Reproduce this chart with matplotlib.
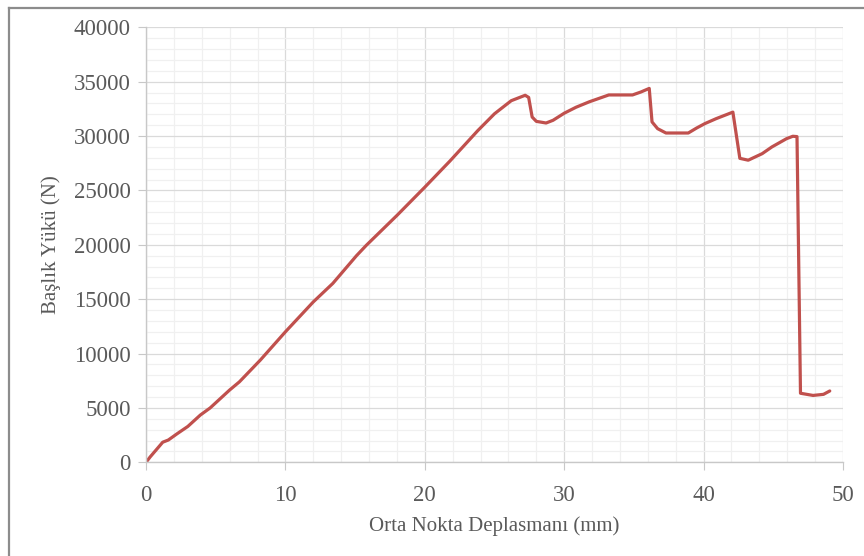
import matplotlib
matplotlib.use("Agg")
import matplotlib.pyplot as plt
from matplotlib.lines import Line2D
from matplotlib.ticker import MultipleLocator

# deplasman (mm) ve yuk (N) okumalari
deplasman = [0, 0.3, 0.7, 1.2, 1.6, 2.2, 3.0, 3.9, 4.6, 6.0, 6.7, 8.2, 10.0,
             12.0, 13.4, 15.1, 15.8, 18.0, 20.0, 21.8, 23.8, 25.0, 26.2, 27.2,
             27.45, 27.7, 28.0, 28.7, 29.2, 30.0, 30.85, 31.8, 33.2, 34.9,
             35.5, 36.1, 36.3, 36.7, 37.3, 38.9, 39.5, 40.1, 40.9, 42.1, 42.6,
             43.2, 44.2, 44.9, 45.95, 46.4, 46.7, 46.95, 47.85, 48.6, 49.05]
yuk = [0, 500, 1100, 1850, 2050, 2600, 3300, 4350, 5000, 6650, 7400, 9400,
       12000, 14750, 16450, 19000, 19950, 22700, 25300, 27700, 30500, 32050,
       33250, 33750, 33550, 31750, 31350, 31200, 31450, 32100, 32650, 33150,
       33780, 33780, 34050, 34380, 31300, 30680, 30280, 30280, 30740, 31150,
       31600, 32200, 27950, 27780, 28380, 29000, 29760, 29980, 29950, 6350,
       6150, 6250, 6560]

x_ticks = [0, 10, 20, 30, 40, 50]
y_ticks = [0, 5000, 10000, 15000, 20000, 25000, 30000, 35000, 40000]

plt.rcParams['font.family'] = ['Liberation Serif', 'DejaVu Serif']

fig = plt.figure(figsize=(8.64, 5.56), dpi=100)
ax = fig.add_axes([0.169, 0.1685, 0.8067, 0.7824])

ax.plot(deplasman, yuk, color='#c0504d', lw=2.3, solid_joinstyle='round',
        solid_capstyle='round')

ax.set_xlim(0, 50)
ax.set_ylim(0, 40000)
ax.set_xticks(x_ticks)
ax.set_yticks(y_ticks)
ax.xaxis.set_minor_locator(MultipleLocator(2))
ax.yaxis.set_minor_locator(MultipleLocator(1000))

ax.grid(which='major', color='#dadada', lw=0.9)
ax.grid(which='minor', color='#f0f0f0', lw=0.9)
ax.set_axisbelow(True)

for s in ['top', 'right']:
    ax.spines[s].set_visible(False)
for s in ['left', 'bottom']:
    ax.spines[s].set_color('#c8c8c8')
    ax.spines[s].set_linewidth(1.0)

ax.tick_params(which='major', length=6, color='#c8c8c8', labelsize=16.5,
               labelcolor='#5a5a5a', pad=5)
ax.tick_params(which='minor', length=0)
ax.tick_params(axis='x', pad=10)

ax.set_xlabel('Orta Nokta Deplasmanı (mm)', fontsize=15, color='#5a5a5a',
              labelpad=8)
ax.set_ylabel('Başlık Yükü (N)', fontsize=15, color='#5a5a5a', labelpad=9)

# kenar cizgileri
fig.add_artist(Line2D([9 / 864, 1], [1 - 8 / 556, 1 - 8 / 556],
                      color='#8c8c8c', lw=1.6, transform=fig.transFigure))
fig.add_artist(Line2D([9 / 864, 9 / 864], [0, 1 - 8 / 556],
                      color='#8c8c8c', lw=1.6, transform=fig.transFigure))

fig.savefig('out.png', dpi=100)
